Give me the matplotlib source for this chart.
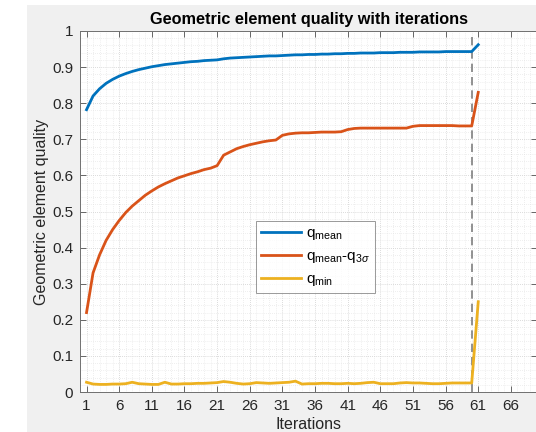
import numpy as np
import matplotlib
matplotlib.use("Agg")
import matplotlib.pyplot as plt
from matplotlib.ticker import MultipleLocator
import matplotlib.patches as mpatches

plt.rcParams['font.family'] = ['Liberation Sans', 'DejaVu Sans']
plt.rcParams['mathtext.fontset'] = 'custom'
plt.rcParams['mathtext.rm'] = 'Liberation Sans'
plt.rcParams['mathtext.it'] = 'Liberation Sans:italic'

iterations = list(range(1, 62))

q_mean = [0.782, 0.820, 0.840, 0.855, 0.866, 0.875, 0.882, 0.888, 0.893, 0.897,
          0.901, 0.904, 0.907, 0.909, 0.911, 0.913, 0.915, 0.916, 0.918, 0.919,
          0.920, 0.923, 0.925, 0.926, 0.927, 0.928, 0.929, 0.930, 0.931, 0.931,
          0.932, 0.933, 0.934, 0.934, 0.935, 0.935, 0.936, 0.936, 0.937, 0.937,
          0.938, 0.938, 0.939, 0.939, 0.939, 0.940, 0.940, 0.940, 0.941, 0.941,
          0.941, 0.942, 0.942, 0.942, 0.942, 0.943, 0.943, 0.943, 0.943, 0.943,
          0.962]

q_mean_minus_3sigma = [0.220, 0.330, 0.380, 0.420, 0.450, 0.475, 0.497, 0.515, 0.530, 0.545,
                       0.557, 0.568, 0.577, 0.585, 0.593, 0.599, 0.605, 0.610, 0.616, 0.620,
                       0.627, 0.656, 0.665, 0.674, 0.680, 0.685, 0.689, 0.693, 0.696, 0.698,
                       0.711, 0.715, 0.717, 0.718, 0.718, 0.719, 0.720, 0.720, 0.720, 0.721,
                       0.727, 0.730, 0.731, 0.731, 0.731, 0.731, 0.731, 0.731, 0.731, 0.731,
                       0.736, 0.738, 0.738, 0.738, 0.738, 0.738, 0.738, 0.737, 0.737, 0.737,
                       0.830]

q_min = [0.027, 0.022, 0.021, 0.021, 0.022, 0.022, 0.023, 0.027, 0.023, 0.022,
         0.021, 0.021, 0.027, 0.022, 0.022, 0.023, 0.023, 0.024, 0.024, 0.025,
         0.026, 0.029, 0.027, 0.024, 0.022, 0.023, 0.026, 0.025, 0.024, 0.025,
         0.026, 0.027, 0.030, 0.022, 0.023, 0.023, 0.024, 0.024, 0.023, 0.023,
         0.024, 0.023, 0.024, 0.026, 0.027, 0.023, 0.023, 0.023, 0.025, 0.026,
         0.025, 0.025, 0.024, 0.023, 0.023, 0.024, 0.025, 0.025, 0.025, 0.025,
         0.250]

remesh_iteration = 60

xticks = list(range(1, 67, 5))
yticks = [0, 0.1, 0.2, 0.3, 0.4, 0.5, 0.6, 0.7, 0.8, 0.9, 1]
ytick_labels = ['0', '0.1', '0.2', '0.3', '0.4', '0.5', '0.6', '0.7', '0.8', '0.9', '1']

colors = ['#0072BD', '#D95319', '#EDB120']
labels = [r'q$_{\mathrm{mean}}$', r'q$_{\mathrm{mean}}$-q$_{3\mathit{\sigma}}$', r'q$_{\mathrm{min}}$']

W, H = 536, 432
fig = plt.figure(figsize=(W / 100, H / 100), dpi=100)
fig.patch.set_facecolor('white')
# grey figure area (MATLAB window)
bg = mpatches.Rectangle((27 / W, 0), 1, (H - 5) / H, transform=fig.transFigure,
                        facecolor='#f0f0f0', edgecolor='none', zorder=-10)
fig.patches.append(bg)

ax = fig.add_axes([80 / W, 40 / H, 457 / W, 361 / H])
ax.set_zorder(1)
ax.set_facecolor('white')

for y, c, lab in zip([q_mean, q_mean_minus_3sigma, q_min], colors, labels):
    ax.plot(iterations, y, color=c, lw=2.0, label=lab, solid_joinstyle='round')

ax.axvline(remesh_iteration, color='#7f7f7f', lw=1.2, ls=(0, (5, 3)), zorder=1)

ax.set_xlim(0, 70)
ax.set_ylim(0, 1)
ax.set_xticks(xticks)
ax.set_yticks(yticks)
ax.set_yticklabels(ytick_labels)
ax.xaxis.set_minor_locator(MultipleLocator(1))
ax.yaxis.set_minor_locator(MultipleLocator(0.02))

ax.grid(True, which='major', color='#cfcfcf', lw=0.6, ls=(0, (1, 1.5)))
ax.grid(True, which='minor', color='#e0e0e0', lw=0.5, ls=(0, (1, 2)))
ax.set_axisbelow(True)

ax.tick_params(which='major', direction='in', length=4, width=0.6, color='#505050',
               top=True, right=True, labelsize=11, labelcolor='#262626', pad=5)
ax.tick_params(which='minor', length=0, top=True, right=True)
for s in ax.spines.values():
    s.set_color('#707070')
    s.set_linewidth(0.7)

ax.set_title('Geometric element quality with iterations', fontsize=11.7, fontweight='bold',
             color='black', pad=5)
ax.set_xlabel('Iterations', fontsize=11.5, color='#262626', labelpad=3)
ax.set_ylabel('Geometric element quality', fontsize=11.5, color='#262626', labelpad=2)

leg = ax.legend(loc='upper left', bbox_to_anchor=((256 - 80) / 457, (392 - 221) / 361),
                borderaxespad=0, fontsize=11, frameon=True, fancybox=False, edgecolor='#808080',
                handlelength=2.6, handletextpad=0.3, borderpad=0.35, labelspacing=0.45)
leg.get_frame().set_linewidth(0.7)

fig.savefig('out.png', dpi=100, facecolor=fig.get_facecolor())
